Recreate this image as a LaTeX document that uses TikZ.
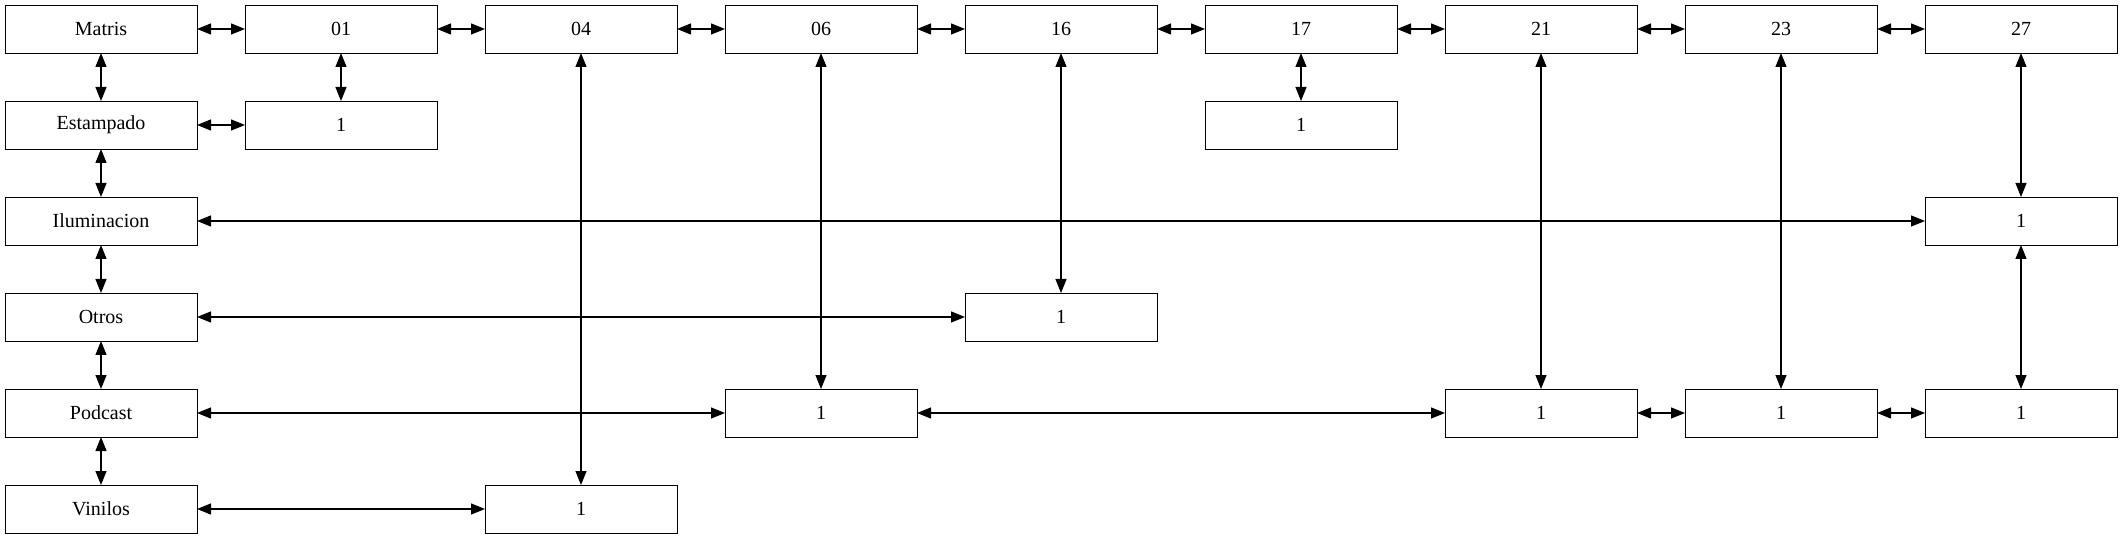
\documentclass[tikz,border=0pt]{standalone}
\usepackage{fontspec}
\setmainfont{Liberation Serif}
\usetikzlibrary{arrows.meta}
\begin{document}
\begin{tikzpicture}[x=0.5pt,y=-0.5pt,
  box/.style={draw, line width=0.45pt, minimum width=96pt, minimum height=24pt, inner sep=0pt, outer sep=0pt, font=\fontsize{10}{12}\selectfont},
  link/.style={line width=0.6pt, {Triangle[length=7pt,width=5.5pt]}-{Triangle[length=7pt,width=5.5pt]}}]
\useasboundingbox (0,0) rectangle (2123,539);
% top row
\node[box] (matris) at (101,29) {Matris};
\node[box] (c01) at (341,29) {01};
\node[box] (c04) at (581,29) {04};
\node[box] (c06) at (821,29) {06};
\node[box] (c16) at (1061,29) {16};
\node[box] (c17) at (1301,29) {17};
\node[box] (c21) at (1541,29) {21};
\node[box] (c23) at (1781,29) {23};
\node[box] (c27) at (2021,29) {27};
% left column
\node[box] (estampado) at (101,125) {Estampado};
\node[box] (ilum) at (101,221) {Iluminacion};
\node[box] (otros) at (101,317) {Otros};
\node[box] (podcast) at (101,413) {Podcast};
\node[box] (vinilos) at (101,509) {Vinilos};
% value cells
\node[box] (e01) at (341,125) {1};
\node[box] (e17) at (1301,125) {1};
\node[box] (i27) at (2021,221) {1};
\node[box] (o16) at (1061,317) {1};
\node[box] (p06) at (821,413) {1};
\node[box] (p21) at (1541,413) {1};
\node[box] (p23) at (1781,413) {1};
\node[box] (p27) at (2021,413) {1};
\node[box] (v04) at (581,509) {1};
% top row links
\draw[link] (matris.east) -- (c01.west);
\draw[link] (c01.east) -- (c04.west);
\draw[link] (c04.east) -- (c06.west);
\draw[link] (c06.east) -- (c16.west);
\draw[link] (c16.east) -- (c17.west);
\draw[link] (c17.east) -- (c21.west);
\draw[link] (c21.east) -- (c23.west);
\draw[link] (c23.east) -- (c27.west);
% left column links
\draw[link] (matris.south) -- (estampado.north);
\draw[link] (estampado.south) -- (ilum.north);
\draw[link] (ilum.south) -- (otros.north);
\draw[link] (otros.south) -- (podcast.north);
\draw[link] (podcast.south) -- (vinilos.north);
% vertical links
\draw[link] (c01.south) -- (e01.north);
\draw[link] (c04.south) -- (v04.north);
\draw[link] (c06.south) -- (p06.north);
\draw[link] (c16.south) -- (o16.north);
\draw[link] (c17.south) -- (e17.north);
\draw[link] (c21.south) -- (p21.north);
\draw[link] (c23.south) -- (p23.north);
\draw[link] (c27.south) -- (i27.north);
\draw[link] (i27.south) -- (p27.north);
% horizontal links
\draw[link] (estampado.east) -- (e01.west);
\draw[link] (ilum.east) -- (i27.west);
\draw[link] (otros.east) -- (o16.west);
\draw[link] (podcast.east) -- (p06.west);
\draw[link] (p06.east) -- (p21.west);
\draw[link] (p21.east) -- (p23.west);
\draw[link] (p23.east) -- (p27.west);
\draw[link] (vinilos.east) -- (v04.west);
\end{tikzpicture}
\end{document}
